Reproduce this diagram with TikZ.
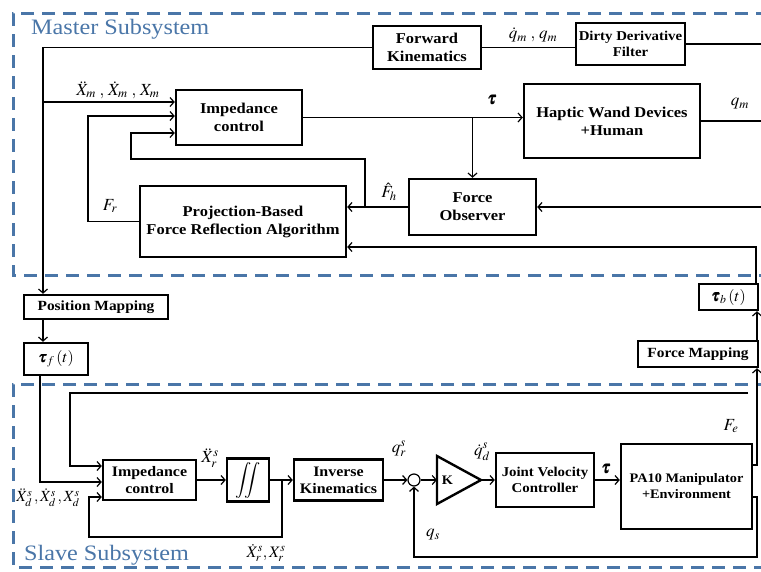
\documentclass[tikz,border=0pt]{standalone}
\usepackage{amsmath}
\usepackage{mathptmx}
\usepackage{bm}
\usepackage{fontspec}
\setmainfont{Liberation Serif}[FakeStretch=1.1]
\usetikzlibrary{arrows.meta,calc}
\definecolor{frameblue}{RGB}{74,118,168}

\begin{document}
\begin{tikzpicture}[x=1pt,y=-1pt,
  blk/.style={draw, line width=2.4pt, align=center, inner sep=1pt,
    font=\fontsize{15}{18}\selectfont\bfseries},
  wire/.style={line width=1.2pt},
  arr/.style={wire, -{Straight Barb[length=4pt,width=9pt]}},
  lbl/.style={font=\fontsize{17}{20}\selectfont, inner sep=0pt},
  frame/.style={draw=frameblue, line width=3pt, dash pattern=on 13pt off 8pt},
  title/.style={text=frameblue, font=\fontsize{22}{26}\selectfont, anchor=west, inner sep=0pt}]

\useasboundingbox (0,0) rectangle (761,571);
\begin{scope}
\clip (0,0) rectangle (761,571);

% subsystem frames
\draw[frame] (790,13) -- (13,13) -- (13,275) -- (790,275);
\draw[frame] (790,384) -- (13,384) -- (13,567) -- (790,567);
\node[title] (tmaster) at (31,29) {Master Subsystem};
\node[title] (tslave) at (24,555) {Slave Subsystem};

% ---------- master side blocks ----------
\node[blk, minimum width=108pt, minimum height=43pt] (fk) at (427,47.5) {Forward\\Kinematics};
\node[blk, minimum width=109pt, minimum height=42pt, font=\fontsize{13.5}{16}\selectfont\bfseries] (dd) at (630.5,44) {Dirty Derivative\\Filter};
\node[blk, minimum width=126pt, minimum height=55pt] (imp) at (239,117.5) {Impedance\\control};
\node[blk, minimum width=176pt, minimum height=74pt] (hap) at (612,121) {Haptic Wand Devices\\+Human};
\node[blk, minimum width=127pt, minimum height=56pt] (fo) at (472.5,207) {Force\\Observer};
\node[blk, minimum width=206pt, minimum height=71pt] (pf) at (243,221.5) {Projection-Based\\Force Reflection Algorithm};

% ---------- communication blocks ----------
\node[blk, minimum width=144pt, minimum height=24pt, font=\fontsize{14}{16}\selectfont\bfseries] (pm) at (96,307) {Position Mapping};
\node[blk, minimum width=64pt, minimum height=32pt, font=\fontsize{16}{18}\selectfont] (tf) at (56,359) {$\boldsymbol{\tau}_f\,(t)$};
\node[blk, minimum width=59pt, minimum height=26pt, font=\fontsize{16}{18}\selectfont] (tb) at (728.5,297) {$\boldsymbol{\tau}_b\,(t)$};
\node[blk, minimum width=120pt, minimum height=26pt, font=\fontsize{14}{16}\selectfont\bfseries] (fm) at (698,354) {Force Mapping};

% ---------- slave side blocks ----------
\node[blk, minimum width=93pt, minimum height=40pt, font=\fontsize{14.5}{17}\selectfont\bfseries] (ims) at (149.5,480) {Impedance\\control};
\node[blk, minimum width=42pt, minimum height=43pt, font=\fontsize{18}{20}\selectfont] (ig) at (248,480) {$\displaystyle\iint$};
\node[blk, minimum width=89pt, minimum height=41pt, font=\fontsize{14.5}{17}\selectfont\bfseries] (ik) at (338.5,480) {Inverse\\Kinematics};
\node[draw, circle, line width=1.2pt, minimum size=12pt, inner sep=0pt] (sum) at (414,480) {};
\coordinate (kin) at (437,480);
\coordinate (kout) at (481,480);
\draw[line width=2.4pt, line join=miter] (437,456) -- (kout) -- (437,504) -- cycle;
\node[font=\fontsize{13}{15}\selectfont\bfseries] (klbl) at (447.5,480) {K};
\node[blk, minimum width=98pt, minimum height=54pt, font=\fontsize{13.5}{16.5}\selectfont\bfseries] (jv) at (545,480) {Joint Velocity\\Controller};
\node[blk, minimum width=131pt, minimum height=85pt, font=\fontsize{13}{16}\selectfont\bfseries] (pa) at (686.5,486.5) {PA10 Manipulator\\+Environment};

% ---------- master side connectors ----------
\coordinate (e1) at (770,44);
\coordinate (lft) at (43,47.5);
\coordinate (j1) at (43,102);
\coordinate (fr) at (88,116);
\coordinate (e2) at (770,121);
\coordinate (e3) at (770,207);
\coordinate (b1) at (365,207);
\coordinate (b2) at (131,159);
\coordinate (b3) at (131,133);
\coordinate (rt) at (756,247);

\draw[wire] (dd.east) -- (e1);
\draw[wire] (dd.west |- fk.east) -- (fk.east);
\draw[arr] (fk.west) -- (lft) -- (lft |- pm.north);
\draw[arr] (j1) -- (j1 -| imp.west);
\draw[arr] (pf.west) -| (fr) -- (fr -| imp.west);
\draw[arr] (imp.east) -- (imp.east -| hap.west);
\draw[arr] (fo.north |- imp.east) -- (fo.north);
\draw[wire] (hap.east) -- (e2);
\draw[arr] (e3) -- (fo.east);
\draw[arr] (fo.west) -- (fo.west -| pf.east);
\draw[arr] (b1) -- (b1 |- b2) -- (b2) -- (b3) -- (b3 -| imp.west);
\draw[arr] (tb.north -| rt) -- (rt) -- (rt -| pf.east);
\draw[arr] (pm.south -| lft) -- (tf.north -| lft);

% ---------- slave side connectors ----------
\coordinate (fe) at (757,465);
\coordinate (qs1) at (757,497);
\coordinate (qs2) at (757,557);
\coordinate (fb0) at (748,393);
\coordinate (fb1) at (70,393);
\coordinate (fb2) at (70,466);
\coordinate (tf1) at (40,482);
\coordinate (br) at (282,480);
\coordinate (br2) at (282,537);
\coordinate (br3) at (89,537);
\coordinate (br4) at (89,497);

\draw[arr] (fm.north -| fe) -- (tb.south -| fe);
\draw[arr] (pa.east |- fe) -- (fe) -- (fe |- fm.south);
\draw[arr] (pa.east |- qs1) -- (qs1) -- (qs2) -- (qs2 -| sum.south) -- (sum.south);
\draw[arr] (fb0) -- (fb1) -- (fb2) -- (fb2 -| ims.west);
\draw[arr] (tf.south -| tf1) -- (tf1) -- (tf1 -| ims.west);
\draw[arr] (ims.east) -- (ig.west);
\draw[arr] (ig.east) -- (ik.west);
\draw[arr] (br) -- (br2) -- (br3) -- (br4) -- (br4 -| ims.west);
\draw[arr] (ik.east) -- (sum.west);
\draw[arr] (sum.east) -- (kin);
\draw[arr] (kout) -- (jv.west);
\draw[arr] (jv.east) -- (pa.west |- jv.east);

% ---------- signal labels ----------
\node[lbl] (lqm) at (533,35) {$\dot{q}_m\;,\,q_m$};
\node[lbl] (lxm) at (118,90) {$\ddot{X}_m\;,\,\dot{X}_m\;,\,X_m$};
\node[lbl] (ltau1) at (492,100) {$\boldsymbol{\tau}$};
\node[lbl] (lqm2) at (740,104) {$q_m$};
\node[lbl] (lfh) at (389,192) {$\hat{F}_h$};
\node[lbl] (lfr) at (110,206) {$F_r$};
\node[lbl] (lfe) at (731,426) {$F_e$};
\node[lbl] (lxrs) at (210,458) {$\ddot{X}^s_r$};
\node[lbl, font=\fontsize{15.5}{18}\selectfont] (lxd) at (48,498) {$\ddot{X}^s_d\,,\dot{X}^s_d\,,X^s_d$};
\node[lbl, font=\fontsize{16}{18}\selectfont] (lxr2) at (266,553) {$\dot{X}^s_r,X^s_r$};
\node[lbl] (lqr) at (399,449) {$q^s_r$};
\node[lbl] (lqd) at (482,452) {$\dot{q}^s_d$};
\node[lbl] (ltau2) at (606,469) {$\boldsymbol{\tau}$};
\node[lbl] (lqs) at (433,535) {$q_s$};
\end{scope}
\end{tikzpicture}
\end{document}
